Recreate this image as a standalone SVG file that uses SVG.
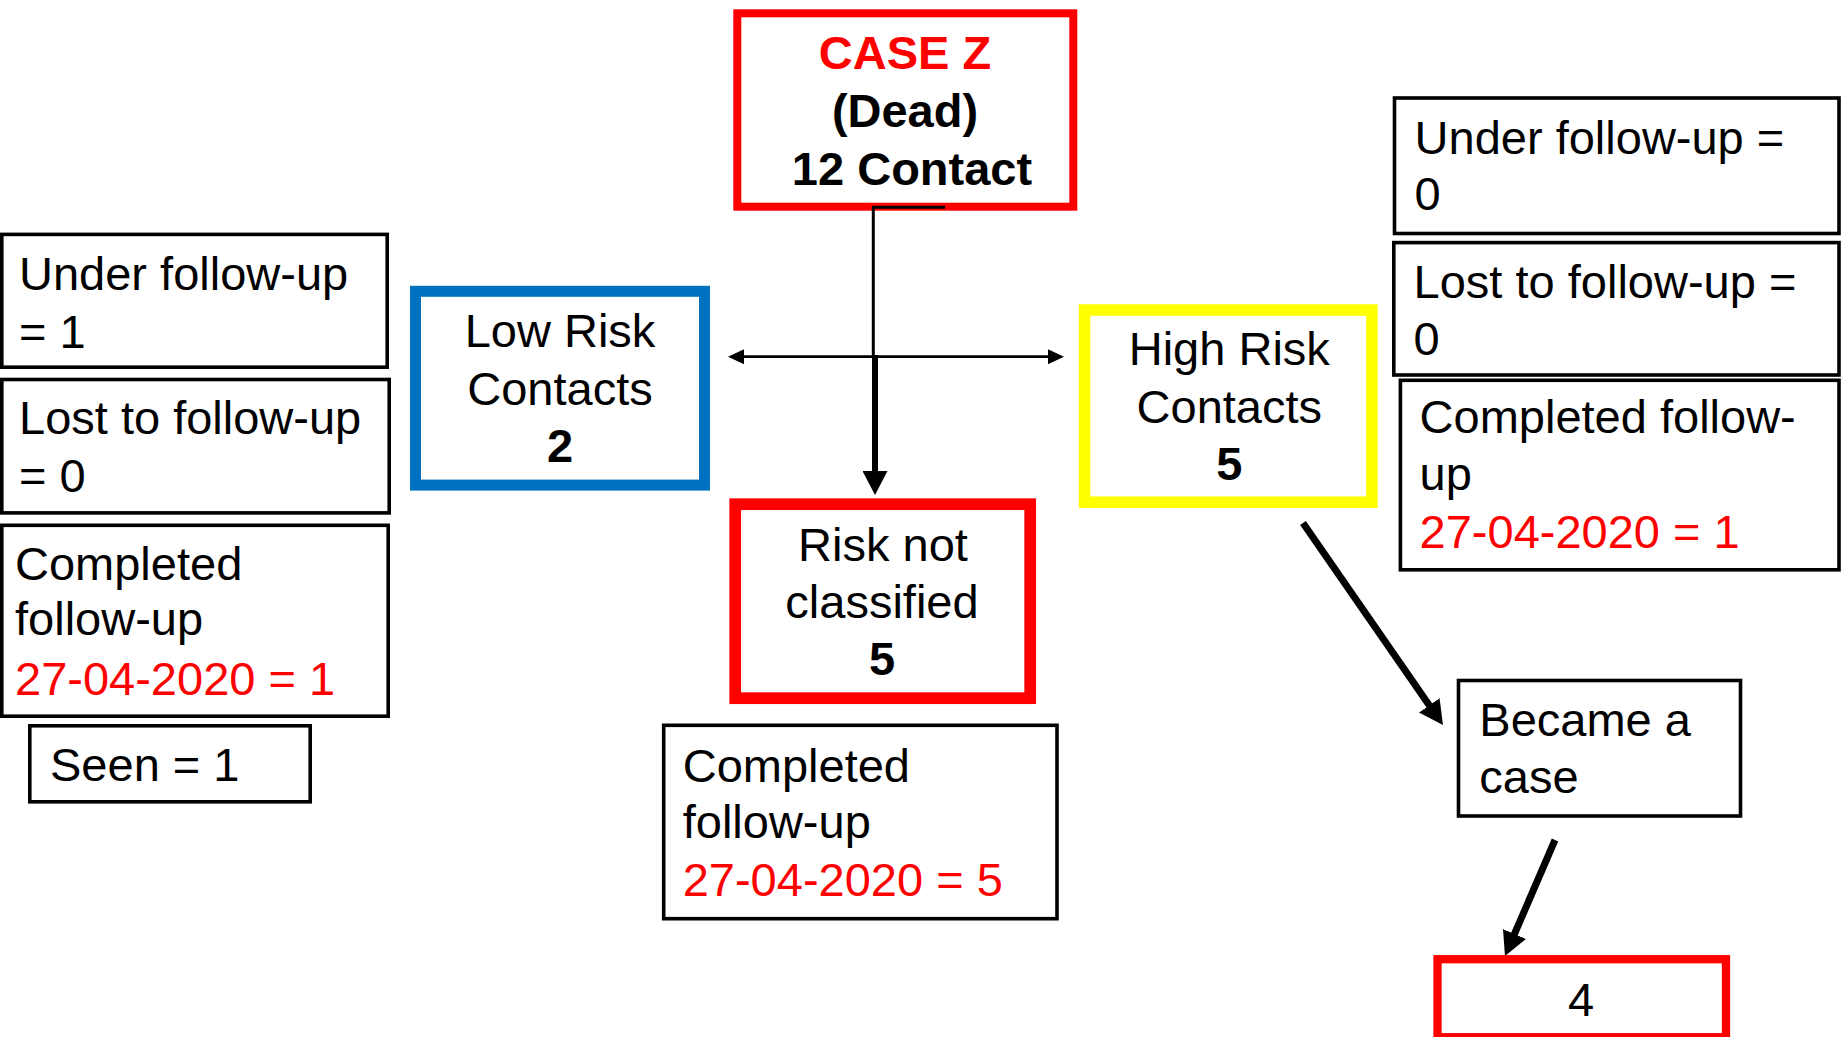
<svg xmlns="http://www.w3.org/2000/svg" width="1841" height="1037" viewBox="0 0 1841 1037">
<style>
text{font-family:"Liberation Sans",Arial,sans-serif;font-size:47px;fill:#000}
.c{text-anchor:middle}
.b{font-weight:bold}
.r{fill:#FF0000}
.box{fill:#fff;stroke:#000;stroke-width:3.6}
.red{fill:#fff;stroke:#FF0000}
.ln{stroke:#000;fill:none}
</style>
<defs>
<marker id="thin" markerUnits="userSpaceOnUse" markerWidth="16" markerHeight="15" refX="4" refY="7.5" orient="auto-start-reverse"><path d="M0,0 L16,7.5 L0,15 Z" fill="#000"/></marker>
<marker id="thick" markerUnits="userSpaceOnUse" markerWidth="24" markerHeight="25" refX="6" refY="12.5" orient="auto"><path d="M0,0 L24,12.5 L0,25 Z" fill="#000"/></marker>
</defs>
<rect width="1841" height="1037" fill="#fff"/>

<g id="case-z">
<rect class="red" x="737.3" y="13.3" width="336" height="193.4" stroke-width="8"/>
<text class="c b r" x="905" y="69" font-size="48">CASE Z</text>
<text class="c b" x="905" y="127" font-size="48">(Dead)</text>
<text class="c b" x="912" y="185" font-size="48">12 Contact</text>
</g>

<g id="connectors">
<line class="ln" x1="872" y1="207.3" x2="945" y2="207.3" stroke-width="3"/>
<line class="ln" x1="873.3" y1="207" x2="873.3" y2="358" stroke-width="3"/>
<line class="ln" x1="740" y1="356.7" x2="1052" y2="356.7" stroke-width="2.7" marker-start="url(#thin)" marker-end="url(#thin)"/>
<line class="ln" x1="875" y1="355" x2="875" y2="477" stroke-width="6" marker-end="url(#thick)"/>
<line class="ln" x1="1303" y1="523" x2="1432.7" y2="710.2" stroke-width="7" marker-end="url(#thick)"/>
<line class="ln" x1="1555" y1="840" x2="1512.1" y2="939.5" stroke-width="7" marker-end="url(#thick)"/>
</g>

<g id="left-under">
<rect class="box" x="1.8" y="234.4" width="385.4" height="132.8"/>
<text x="19" y="290">Under follow-up</text>
<text x="19" y="347.5">= 1</text>
</g>
<g id="left-lost">
<rect class="box" x="1.8" y="379.5" width="387.4" height="133.4"/>
<text x="19" y="434">Lost to follow-up</text>
<text x="19" y="491.7">= 0</text>
</g>
<g id="left-completed">
<rect class="box" x="1.8" y="525.3" width="386.4" height="190.9"/>
<text x="15" y="579.7">Completed</text>
<text x="15" y="635">follow-up</text>
<text class="r" x="15" y="694.5">27-04-2020 = 1</text>
</g>
<g id="left-seen">
<rect class="box" x="29.8" y="725.8" width="280.4" height="76"/>
<text x="50" y="780.6">Seen = 1</text>
</g>

<g id="low-risk">
<rect x="415.5" y="291.3" width="289" height="193.8" fill="#fff" stroke="#0070C0" stroke-width="11"/>
<text class="c" x="560" y="347.4">Low Risk</text>
<text class="c" x="560" y="404.8">Contacts</text>
<text class="c b" x="560" y="461.9">2</text>
</g>

<g id="risk-not-classified">
<rect class="red" x="735.2" y="504.2" width="295" height="194" stroke-width="11.7"/>
<text class="c" x="883" y="561">Risk not</text>
<text class="c" x="882" y="617.7">classified</text>
<text class="c b" x="882" y="675">5</text>
</g>

<g id="mid-completed">
<rect class="box" x="663.7" y="725.3" width="393.3" height="193.4" stroke-width="4"/>
<text x="682.7" y="781.7">Completed</text>
<text x="682.7" y="838.3">follow-up</text>
<text class="r" x="682.7" y="896">27-04-2020 = 5</text>
</g>

<g id="high-risk">
<rect x="1084.6" y="310" width="287.3" height="192.2" fill="#fff" stroke="#FFFF00" stroke-width="11.5"/>
<text class="c" x="1229.3" y="365.2">High Risk</text>
<text class="c" x="1229.3" y="422.6">Contacts</text>
<text class="c b" x="1229.3" y="479.7">5</text>
</g>

<g id="right-under">
<rect class="box" x="1394.5" y="98" width="444.5" height="135.5"/>
<text x="1414.6" y="153.6">Under follow-up =</text>
<text x="1414.6" y="210.3">0</text>
</g>
<g id="right-lost">
<rect class="box" x="1393.8" y="242.6" width="445.2" height="132.4"/>
<text x="1413.6" y="298.2">Lost to follow-up =</text>
<text x="1413.6" y="354.6">0</text>
</g>
<g id="right-completed">
<rect class="box" x="1400.4" y="380.3" width="438.6" height="189.5"/>
<text x="1419.6" y="433.2">Completed follow-</text>
<text x="1419.6" y="489.6">up</text>
<text class="r" x="1419.6" y="547.7">27-04-2020 = 1</text>
</g>

<g id="became-case">
<rect class="box" x="1458.5" y="680.5" width="282" height="135.5"/>
<text x="1479.3" y="736.3">Became a</text>
<text x="1479.3" y="792.8">case</text>
</g>

<g id="four">
<rect class="red" x="1437.5" y="959.2" width="288.5" height="78" stroke-width="8.3"/>
<text class="c" x="1581" y="1016">4</text>
</g>
</svg>
